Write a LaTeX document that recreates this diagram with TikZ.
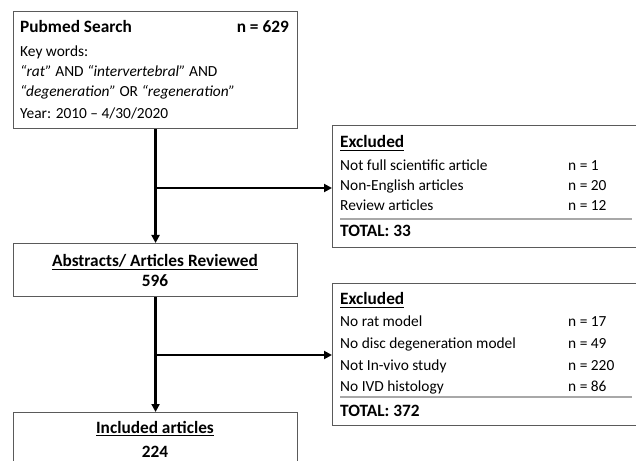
\documentclass[tikz,border=0pt]{standalone}
\usepackage{fontspec}
\setmainfont{Carlito}
\usetikzlibrary{arrows.meta}
\definecolor{boxgray}{HTML}{5A5A5A}
\definecolor{sepgray}{HTML}{A8A8A8}
\newcommand\myTitleFont{\fontsize{17.3}{20}\selectfont\bfseries}
\newcommand\myBodyFont{\fontsize{15.4}{20}\selectfont}
\newcommand\myUL[1]{\leavevmode\vtop{\hbox{\raisebox{0pt}[\height][0pt]{#1}}\kern2pt\hrule height 1.2pt}}
\begin{document}
\begin{tikzpicture}[x=1pt,y=1pt,
  box/.style={draw=boxgray, line width=1.1pt, rectangle, inner sep=0pt, anchor=north west},
  conn/.style={line width=2.6pt, -{Triangle[length=8pt,width=8pt]}},
  sep/.style={draw=sepgray, line width=1.6pt},
  tl/.style={anchor=base west, inner sep=0pt, font=\myBodyFont},
  tlb/.style={anchor=base west, inner sep=0pt, font=\myTitleFont},
  tc/.style={anchor=base, inner sep=0pt, font=\myTitleFont},
  tr/.style={anchor=base east, inner sep=0pt, font=\myTitleFont}]
\clip (0,0) rectangle (636,460);
\fill[white] (0,0) rectangle (636,460);

% boxes
\node[box, minimum width=284pt, minimum height=117pt] (pubmed) at (13,449) {};
\node[box, minimum width=284pt, minimum height=53pt] (abstracts) at (13,217) {};
\node[box, minimum width=284pt, minimum height=60pt] (included) at (13,48) {};
\node[box, minimum width=310pt, minimum height=122pt] (exA) at (332,335) {};
\node[box, minimum width=310pt, minimum height=142pt] (exB) at (332,177) {};

% Pubmed text
\node[tlb] (pmtitle) at (20,427) {Pubmed Search};
\node[tr] (pmn) at (289,427) {n = 629};
\node[tl] (kw) at (20,403) {Key words:};
\node[tl] (kw1) at (20,383) {\textit{“rat”} AND \textit{“intervertebral”} AND};
\node[tl] (kw2) at (20,363) {\textit{“degeneration”} OR \textit{“regeneration”}};
\node[tl] (yr) at (20,341) {Year: 2010 – 4/30/2020};

% Abstracts text
\node[tc] (abstitle) at (155,193.3) {\myUL{Abstracts/ Articles Reviewed}};
\node[tc] (absn) at (155,173) {596};

% Included text
\node[tc] (inctitle) at (155,27) {\myUL{Included articles}};
\node[tc] (incn) at (155,3) {224};

% Excluded A
\node[tlb] (exAh) at (340,312) {\myUL{Excluded}};
\node[tl] (exA1) at (340,289.5) {Not full scientific article};
\node[tl] (exA1n) at (568,289.5) {n = 1};
\node[tl] (exA2) at (340,269.5) {Non-English articles};
\node[tl] (exA2n) at (568,269.5) {n = 20};
\node[tl] (exA3) at (340,249.5) {Review articles};
\node[tl] (exA3n) at (568,249.5) {n = 12};
\draw[sep] (340,241) -- (632,241);
\node[tlb] (exAt) at (340,223.3) {TOTAL: 33};

% Excluded B
\node[tlb] (exBh) at (340,155) {\myUL{Excluded}};
\node[tl] (exB1) at (340,133) {No rat model};
\node[tl] (exB1n) at (568,133) {n = 17};
\node[tl] (exB2) at (340,111) {No disc degeneration model};
\node[tl] (exB2n) at (568,111) {n = 49};
\node[tl] (exB3) at (340,89.3) {Not In-vivo study};
\node[tl] (exB3n) at (568,89.3) {n = 220};
\node[tl] (exB4) at (340,68.3) {No IVD histology};
\node[tl] (exB4n) at (568,68.3) {n = 86};
\draw[sep] (340,63) -- (632,63);
\node[tlb] (exBt) at (340,44) {TOTAL: 372};

% connectors
\coordinate (j1) at (155,272);
\coordinate (j2) at (155,105);
\draw[conn] (pubmed.south) -- (abstracts.north);
\draw[conn] (j1) -- (j1 -| exA.west);
\draw[conn] (abstracts.south) -- (included.north);
\draw[conn] (j2) -- (j2 -| exB.west);
\end{tikzpicture}
\end{document}
